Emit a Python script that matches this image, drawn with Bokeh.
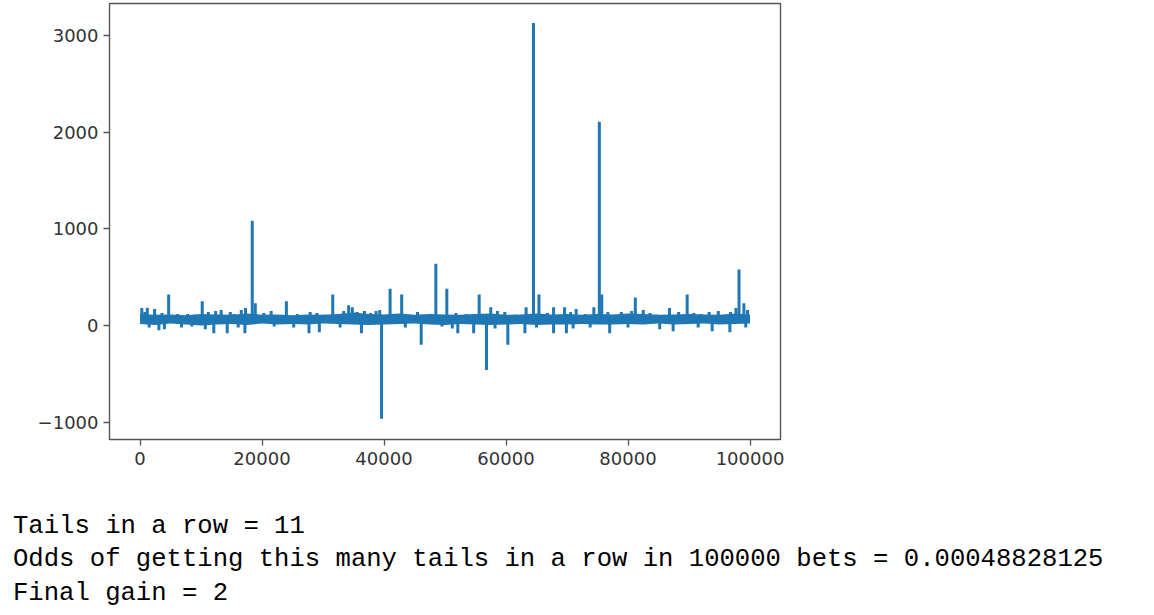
from bokeh.plotting import figure
from bokeh.layouts import column
from bokeh.models import Range1d, FixedTicker, Div
from bokeh.embed import file_html
from bokeh.resources import INLINE

# ---- data ----
baseline = 60

band_x = [0, 2500, 5000, 7500, 10000, 12500, 15000, 17500, 20000, 22500,
          25000, 27500, 30000, 32500, 35000, 37500, 40000, 42500, 45000, 47500,
          50000, 52500, 55000, 57500, 60000, 62500, 65000, 67500, 70000, 72500,
          75000, 77500, 80000, 82500, 85000, 87500, 90000, 92500, 95000, 97500, 100000]
band_lo = [15, 5, 20, 10, 0, 10, 15, 5, 20, 10,
           15, 10, 20, 15, 10, 5, 10, 15, 20, 10,
           5, 15, 10, 5, 10, 15, 5, 10, 10, 15,
           10, 10, 15, 10, 20, 10, 15, 20, 10, 15, 20]
band_hi = [120, 110, 115, 105, 120, 115, 110, 125, 110, 115,
           105, 115, 110, 120, 135, 120, 115, 125, 110, 120,
           115, 110, 120, 125, 110, 115, 125, 115, 120, 110,
           120, 115, 125, 120, 110, 115, 120, 115, 110, 125, 115]

up_x = [300, 800, 1200, 2400, 3600, 4700, 6200, 7800, 9000, 10200, 11200, 12400,
        13300, 14800, 15400, 16600, 17300, 18400, 18900, 20300, 21500, 24000, 25800, 27900,
        29000, 30200, 31600, 33400, 34200, 34800, 35600, 36800, 37800, 38700, 39300, 41000,
        42900, 44200, 45500, 47600, 48500, 50300, 51800, 53500, 55600, 57500, 58600,
        59800, 61500, 63300, 64500, 65400, 66800, 67800, 69600, 70600, 71500, 73000, 74400,
        75300, 75700, 76700, 78900, 80600, 81200, 82500, 83600, 84800, 86800, 88300, 89700,
        90800, 92000, 93300, 94800, 96800, 97700, 98200, 99000, 99600]
up_y = [180, 140, 185, 170, 130, 320, 120, 120, 110, 250, 140, 150,
        160, 140, 120, 160, 180, 1085, 230, 130, 150, 250, 120, 140,
        130, 110, 320, 150, 210, 190, 140, 150, 130, 150, 160, 380,
        320, 110, 140, 120, 640, 380, 130, 120, 320, 190, 150,
        140, 110, 190, 3130, 320, 130, 190, 190, 140, 170, 120, 190,
        2110, 320, 140, 140, 150, 290, 160, 130, 110, 180, 140, 320,
        130, 120, 140, 150, 140, 180, 580, 230, 160]

down_x = [1500, 3100, 4000, 6800, 8500, 10700, 12100, 14300, 16100, 17200, 22000, 25200,
          27700, 29400, 32800, 36300, 39600, 43500, 46100, 49500, 51200, 52100, 54700, 56800,
          58200, 60300, 63100, 65000, 67800, 69900, 71000, 73800, 77000, 80000, 85200, 87400,
          91500, 93800, 96700, 99300]
down_y = [-20, -50, -40, -20, -10, -40, -80, -80, -20, -80, -10, -20,
          -80, -70, -20, -80, -965, -20, -200, -10, -30, -80, -80, -460,
          -30, -200, -80, -20, -80, -80, -30, -20, -80, -20, -40, -60,
          -20, -60, -70, -20]

x_ticks = [0, 20000, 40000, 60000, 80000, 100000]
x_tick_labels = {0: "0", 20000: "20000", 40000: "40000", 60000: "60000",
                 80000: "80000", 100000: "100000"}
y_ticks = [-1000, 0, 1000, 2000, 3000]
y_tick_labels = {-1000: "\u22121000", 0: "0", 1000: "1000", 2000: "2000", 3000: "3000"}

lines = [
    "Tails in a row = 11",
    "Odds of getting this many tails in a row in 100000 bets = 0.00048828125",
    "Final gain = 2",
]

BLUE = "#1f77b4"

p = figure(width=1150, height=475, output_backend="svg", toolbar_location=None,
           x_range=Range1d(-5000, 105000), y_range=Range1d(-1180, 3333),
           min_border_left=109, min_border_right=370, min_border_top=3,
           min_border_bottom=36)
p.grid.visible = False
p.outline_line_color = "#555555"
p.outline_line_width = 1.4
p.background_fill_color = "white"
p.border_fill_color = "white"

p.varea(x=band_x, y1=band_lo, y2=band_hi, fill_color=BLUE)
p.segment(x0=up_x, y0=[baseline] * len(up_x), x1=up_x, y1=up_y,
          line_color=BLUE, line_width=3)
p.segment(x0=down_x, y0=[baseline] * len(down_x), x1=down_x, y1=down_y,
          line_color=BLUE, line_width=3)

for ax in (p.xaxis[0], p.yaxis[0]):
    ax.axis_line_color = None
    ax.major_tick_line_color = "#555555"
    ax.major_tick_line_width = 1.3
    ax.major_tick_out = 6
    ax.major_tick_in = 0
    ax.minor_tick_line_color = None
    ax.major_label_text_font = "DejaVu Sans"
    ax.major_label_text_font_size = "18px"
    ax.major_label_text_color = "#333333"

p.xaxis.ticker = FixedTicker(ticks=x_ticks)
p.xaxis.major_label_overrides = x_tick_labels
p.xaxis.major_label_standoff = 6
p.yaxis.ticker = FixedTicker(ticks=y_ticks)
p.yaxis.major_label_overrides = y_tick_labels
p.yaxis.major_label_standoff = 5

# text printed below the chart
text_div = Div(
    text="<br>".join(lines),
    width=1150,
    styles={
        "font-family": "'Liberation Mono', monospace",
        "font-size": "25.6px",
        "line-height": "33.7px",
        "color": "black",
        "white-space": "pre",
        "padding-top": "34.5px",
        "padding-left": "13px",
        "margin": "0",
    },
)

layout = column(p, text_div, spacing=0)
open("out.html", "w").write(file_html(layout, INLINE))
